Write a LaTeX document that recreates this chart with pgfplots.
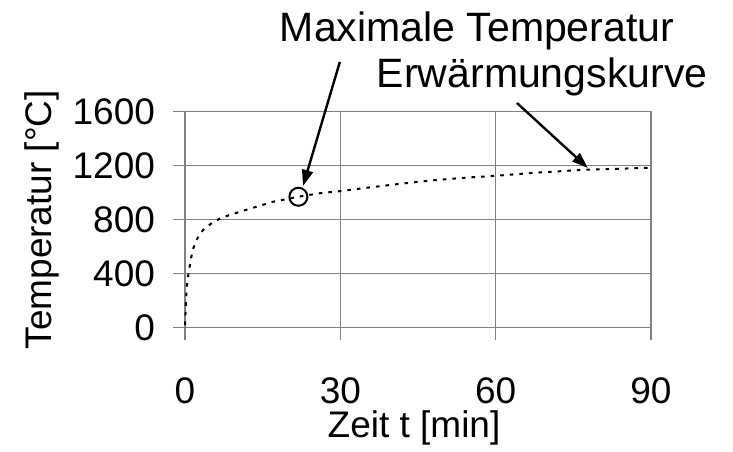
\documentclass[border=0pt]{standalone}
\usepackage{pgfplots}
\pgfplotsset{compat=1.18}
\usepackage{fontspec}
\setmainfont{Liberation Sans}
\usetikzlibrary{arrows.meta}

\pgfplotstableread{
t T
0.0 20
0.15 150
0.3 279
0.55 370
0.8 430
1.2 520
1.6 588
2.4 662
3.5 724
5.1 773
6.8 810
8.7 836
10.6 859
13.8 896
17.0 933
21.9 970
26.0 996
30.3 1013
35.8 1040
42.0 1068
48.0 1092
54.4 1112
60.0 1125
67.3 1147
73.7 1162
78.3 1172
83.4 1177
90.0 1185
}\heating

\begin{document}
\begin{tikzpicture}
\path[use as bounding box] (-92.5pt,163.85pt) rectangle (274pt,-61.65pt);
\begin{axis}[
  at={(0,0)}, anchor=south west,
  scale only axis,
  width=233pt, height=108pt,
  xmin=0, xmax=90, ymin=0, ymax=1600,
  xtick={0,30,60,90}, ytick={0,400,800,1200,1600},
  tick pos=left, tick align=outside,
  major tick length=6pt,
  every tick/.style={gray, line width=0.6pt},
  axis line style={gray, line width=0.6pt},
  grid=major,
  major grid style={gray, line width=0.6pt},
  /pgf/number format/assume math mode=true,
  /pgf/number format/1000 sep={},
  tick label style={font=\fontsize{18.5}{22}\selectfont},
  xticklabel style={anchor=base, yshift=-32pt},
  yticklabel style={anchor=east, xshift=-5.5pt},
  label style={font=\fontsize{18.5}{22}\selectfont},
  xlabel={Zeit t [min]},
  xlabel style={at={(axis description cs:0.5,0)}, anchor=base, yshift=-54.8pt, xshift=-2pt},
  ylabel={Temperatur [°C]},
  ylabel style={at={(axis description cs:0,0.5)}, anchor=base, yshift=66.5pt},
  clip=false,
]
\addplot[black, line width=1pt, dash pattern=on 1.8pt off 3pt] table[x=t, y=T] {\heating};
\addplot[black, only marks, mark=o, mark size=4.5pt, mark options={line width=1pt}] coordinates {(21.9,970)};
\draw[-{Triangle[length=8pt, width=5.5pt]}, line width=1.2pt] (axis cs:29.9,1968) -- (axis cs:22.8,1050);
\draw[-{Triangle[length=8pt, width=5.5pt]}, line width=1.2pt] (axis cs:64.1,1665) -- (axis cs:77.8,1183);
\node[anchor=base, font=\fontsize{20.5}{24}\selectfont, inner sep=0pt] at (axis cs:56.4,2120) {Maximale Temperatur};
\node[anchor=base west, font=\fontsize{20.5}{24}\selectfont, inner sep=0pt] at (axis cs:37.0,1776) {Erwärmungskurve};
\end{axis}
\end{tikzpicture}
\end{document}
